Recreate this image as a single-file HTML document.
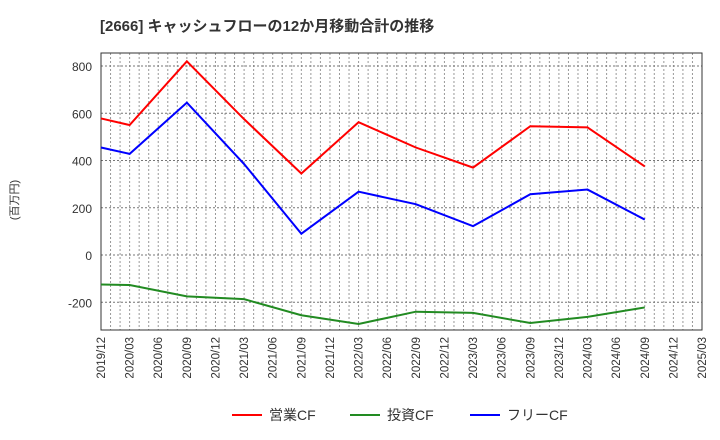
<!DOCTYPE html>
<html><head><meta charset="utf-8"><style>body{margin:0;background:#fff}svg{display:block;font-family:"Liberation Sans","Noto Sans CJK JP",sans-serif}</style></head>
<body>
<svg id="c" width="720" height="440"></svg>
<script>
const labels=["2019/12","2020/03","2020/06","2020/09","2020/12","2021/03","2021/06","2021/09","2021/12","2022/03","2022/06","2022/09","2022/12","2023/03","2023/06","2023/09","2023/12","2024/03","2024/06","2024/09","2024/12","2025/03"];
const ptIdx=[0,1,3,5,7,9,11,13,15,17,19];
const opCF=[578,550,820,575,345,562,455,370,545,540,375];
const invCF=[-125,-127,-175,-187,-255,-292,-240,-245,-288,-262,-222];
const freeCF=[455,428,645,385,90,268,215,122,257,277,150];
const yTicks=[-200,0,200,400,600,800];
const NS="http://www.w3.org/2000/svg",s=document.getElementById('c');
const L=101,R=702,T=53,B=330;
const x=q=>L+(R-L)*q/21;
const y=v=>255-v*(47.25/200);
function el(t,a,p){const e=document.createElementNS(NS,t);for(const k in a)e.setAttribute(k,a[k]);(p||s).appendChild(e);return e;}
const t=el('text',{x:100,y:31,'font-size':15,'font-weight':'bold',fill:'#333'});t.textContent='[2666]  キャッシュフローの12か月移動合計の推移';

for(let m=1;m<63;m++){const xx=L+(R-L)*m/63;const g=el('line',{x1:xx,x2:xx,y1:T,y2:B,stroke:'#999','stroke-dasharray':'2,2','stroke-width':1});}
yTicks.forEach(v=>{const g=el('line',{x1:L,x2:R,y1:y(v),y2:y(v),stroke:'#777','stroke-dasharray':'2,2'});
const tt=el('text',{x:L-9,y:y(v)+5,'text-anchor':'end','font-size':12,fill:'#333'});tt.textContent=v;});
const fr=el('rect',{x:L,y:T,width:R-L,height:B-T,fill:'none',stroke:'#333'});
labels.forEach((lb,i)=>{const tt=el('text',{transform:`translate(${x(i)+4},${B+7}) rotate(-90)`,'text-anchor':'end','font-size':11.5,fill:'#333'});tt.textContent=lb;});
const yt=el('text',{transform:'translate(18,200) rotate(-90)','text-anchor':'middle','font-size':11,fill:'#333'});yt.textContent='(百万円)';
[[opCF,'#f00','operating-cf-line'],[invCF,'#228b22','investing-cf-line'],[freeCF,'#00f','free-cf-line']].forEach(([d,c,n])=>{
const p=el('polyline',{points:d.map((v,i)=>x(ptIdx[i])+','+y(v)).join(' '),fill:'none',stroke:c,'stroke-width':2});});
[['営業CF','#f00',232],['投資CF','#228b22',350],['フリーCF','#00f',470]].forEach(([n,c,lx])=>{
const g=el('g',{});
el('line',{x1:lx,x2:lx+30,y1:415,y2:415,stroke:c,'stroke-width':2},g);
const tt=el('text',{x:lx+37,y:420,'font-size':14,fill:'#333'},g);tt.textContent=n;});
</script>
</body></html>
